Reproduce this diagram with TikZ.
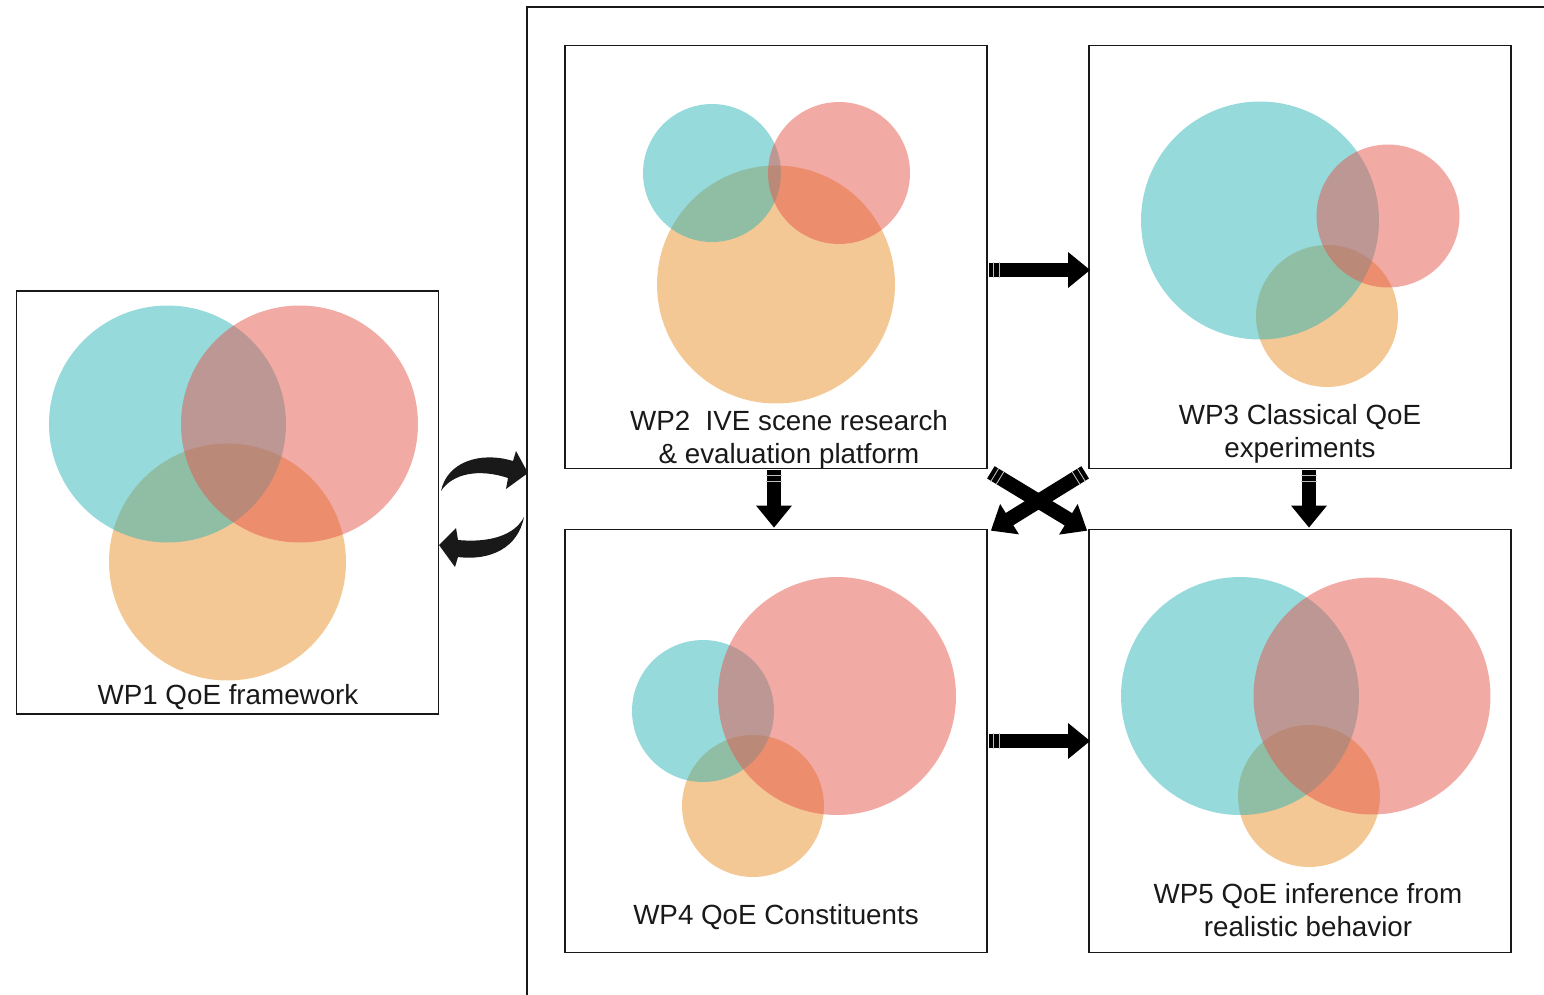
\documentclass[tikz,border=0pt]{standalone}
\usepackage{fontspec}
\setmainfont{Liberation Sans}
\usetikzlibrary{arrows.meta,calc}
\definecolor{vcyan}{RGB}{45,181,183}
\definecolor{vpink}{RGB}{229,85,75}
\definecolor{vorange}{RGB}{233,145,41}
\definecolor{ink}{RGB}{25,25,25}
\begin{document}
\begin{tikzpicture}[x=0.02cm,y=-0.02cm,
  panel/.style={draw=ink,line width=1pt,minimum width=8.44cm,minimum height=8.46cm,inner sep=0pt},
  lbl/.style={font=\fontsize{15.8}{18.7}\selectfont,text=ink,align=center,anchor=base,inner sep=0pt},
  venn/.style={fill opacity=0.5},
  blk/.style={draw=black,line width=8.2pt,-{Triangle[width=19.5pt,length=12.5pt]}},
  stripe/.style={draw=white!75!black,line width=8.6pt,dash pattern=on 0pt off 2.4pt on 0.5pt off 3pt on 0.5pt off 400pt}]
\useasboundingbox (0,0) rectangle (1544,994);

% outer frame around WP2--WP5
\draw[draw=ink,line width=1pt] (527,1000) -- (527,7) -- (1550,7);

% work package panels
\node[panel] (wp1) at (227.5,502.5) {};
\node[panel] (wp2) at (776,257) {};
\node[panel] (wp3) at (1300,257) {};
\node[panel] (wp4) at (776,741) {};
\node[panel] (wp5) at (1300,741) {};

% Venn circles: orange, then cyan, then pink on top
\fill[venn,vorange] (227.5,562) circle[radius=2.37cm];
\fill[venn,vcyan] (167.5,424) circle[radius=2.37cm];
\fill[venn,vpink] (299.5,424) circle[radius=2.37cm];

\fill[venn,vorange] (776,284.5) circle[radius=2.38cm];
\fill[venn,vcyan] (712,173) circle[radius=1.38cm];
\fill[venn,vpink] (839,173) circle[radius=1.42cm];

\fill[venn,vorange] (1327,316) circle[radius=1.42cm];
\fill[venn,vcyan] (1260,220.5) circle[radius=2.38cm];
\fill[venn,vpink] (1388,216) circle[radius=1.43cm];

\fill[venn,vorange] (753,806) circle[radius=1.42cm];
\fill[venn,vcyan] (703,711) circle[radius=1.42cm];
\fill[venn,vpink] (837,696) circle[radius=2.38cm];

\fill[venn,vorange] (1309,796) circle[radius=1.42cm];
\fill[venn,vcyan] (1240,696) circle[radius=2.38cm];
\fill[venn,vpink] (1372,696) circle[radius=2.37cm];

% labels (anchored at the baseline of the last line)
\node[lbl] (l1) at (228,704) {WP1 QoE framework};
\node[lbl] (l2) at (789,463) {WP2~~IVE scene research\\\& evaluation platform};
\node[lbl] (l3) at (1300,457) {WP3 Classical QoE\\experiments};
\node[lbl] (l4) at (776,924) {WP4 QoE Constituents};
\node[lbl] (l5) at (1308,936) {WP5 QoE inference from\\realistic behavior};

% block arrows between panels
\coordinate (a1s) at ($(wp2.east)+(1,13)$);
\coordinate (a1e) at ($(wp3.west)+(2,13)$);
\coordinate (a2s) at ($(wp2.south)+(-2,1)$);
\coordinate (a2e) at ($(wp4.north)+(-2,-1)$);
\coordinate (a3s) at ($(wp3.south)+(9,1)$);
\coordinate (a3e) at ($(wp5.north)+(9,-1)$);
\coordinate (a4s) at ($(wp4.east)+(1,0)$);
\coordinate (a4e) at ($(wp5.west)+(2,0)$);
\coordinate (x1s) at ($(wp3.south west)+(-3,3)$);
\coordinate (x1e) at ($(wp4.north east)+(3,2)$);
\coordinate (x2s) at ($(wp2.south east)+(3,3)$);
\coordinate (x2e) at ($(wp5.north west)+(-1,2)$);

\foreach \s/\e in {a1s/a1e,a2s/a2e,a3s/a3e,a4s/a4e,x1s/x1e,x2s/x2e}{
  \draw[blk] (\s) -- (\e);
  \draw[stripe] (\s) -- (\e);
}

% curved two-way arrows between WP1 and the frame
\fill[ink] (441,491) .. controls (447,462) and (480,451) .. (513,461)
  -- (516,451) -- (528,473) -- (506,489) -- (508,478)
  .. controls (478,468) and (452,474) .. (441,491) -- cycle;
\fill[ink] (524,517) .. controls (518,548) and (490,561) .. (458,557)
  -- (455,567) -- (439,545) -- (456,528) -- (458,540)
  .. controls (490,543) and (515,535) .. (524,517) -- cycle;
\end{tikzpicture}
\end{document}
